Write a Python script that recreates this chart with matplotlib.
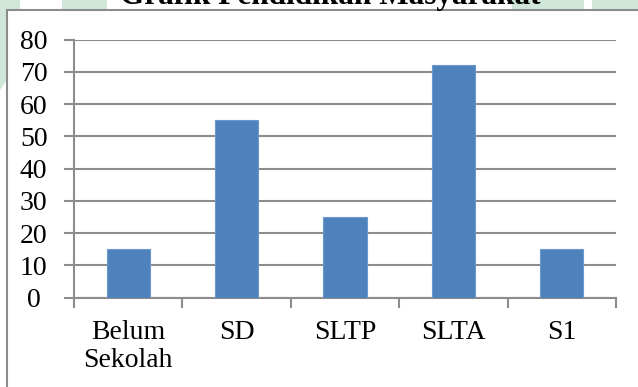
import matplotlib.pyplot as plt
from matplotlib.patches import Rectangle, Polygon

categories = ['Belum\nSekolah', 'SD', 'SLTP', 'SLTA', 'S1']
values = [15, 55, 25, 72, 15]
yticks = [0, 10, 20, 30, 40, 50, 60, 70, 80]
title = 'Grafik Pendidikan Masyarakat'

plt.rcParams['font.family'] = ['Liberation Serif', 'DejaVu Serif']

W, H = 638, 387
fig = plt.figure(figsize=(W / 100, H / 100), dpi=100)
fig.patch.set_facecolor('white')

# faint green watermark shapes behind the chart box
wm = '#cfe6d8'
fig.patches.append(Polygon([(0, 1), (20 / W, 1), (20 / W, 1 - 60 / H), (0, 1 - 90 / H)],
                           closed=True, transform=fig.transFigure, fc=wm, ec='none', zorder=0))
fig.patches.append(Rectangle((62 / W, 1 - 12 / H), 45 / W, 12 / H,
                             transform=fig.transFigure, fc=wm, ec='none', zorder=0))
fig.patches.append(Rectangle((512 / W, 1 - 12 / H), 72 / W, 12 / H,
                             transform=fig.transFigure, fc=wm, ec='none', zorder=0))
fig.patches.append(Rectangle((592 / W, 1 - 12 / H), 46 / W, 12 / H,
                             transform=fig.transFigure, fc=wm, ec='none', zorder=0))

# chart box
fig.patches.append(Rectangle((7 / W, -0.05), 1.2, 1 - 10 / H + 0.05,
                             transform=fig.transFigure, fc='white', ec='#8c8c8c', lw=1.5, zorder=1))

fig.text(330 / W, 1 - 4 / H, title, ha='center', va='baseline', fontsize=22.5,
         fontweight='bold', color='black', zorder=2)

ax = fig.add_axes([74 / W, 89.3 / H, 542 / W, 258.2 / H])
ax.set_zorder(3)
ax.patch.set_visible(False)

x = range(len(categories))
ax.bar(x, values, width=0.4, color='#4f81bd', edgecolor='#6d98cc', linewidth=0.8, zorder=3)

ax.set_xlim(-0.5, len(categories) - 0.5)
ax.set_ylim(0, 80)
ax.set_yticks(yticks)
ax.yaxis.grid(True, color='#8c8c8c', linewidth=1.5)
ax.set_axisbelow(True)

ax.set_xticks([i - 0.5 for i in range(len(categories) + 1)], minor=False)
ax.set_xticklabels([])
ax.set_xticks(list(x), minor=True)
ax.set_xticklabels(categories, minor=True, fontsize=20, linespacing=1.15)
ax.tick_params(axis='x', which='minor', length=0, pad=16)
ax.tick_params(axis='x', which='major', length=7, width=1.5, color='#8c8c8c')
ax.tick_params(axis='y', length=7, width=1.5, color='#8c8c8c', labelsize=20, pad=22)
for lab in ax.get_yticklabels():
    lab.set_horizontalalignment('center')

for s in ['top', 'right']:
    ax.spines[s].set_visible(False)
for s in ['left', 'bottom']:
    ax.spines[s].set_color('#8c8c8c')
    ax.spines[s].set_linewidth(1.5)

fig.savefig('out.png', dpi=100)
